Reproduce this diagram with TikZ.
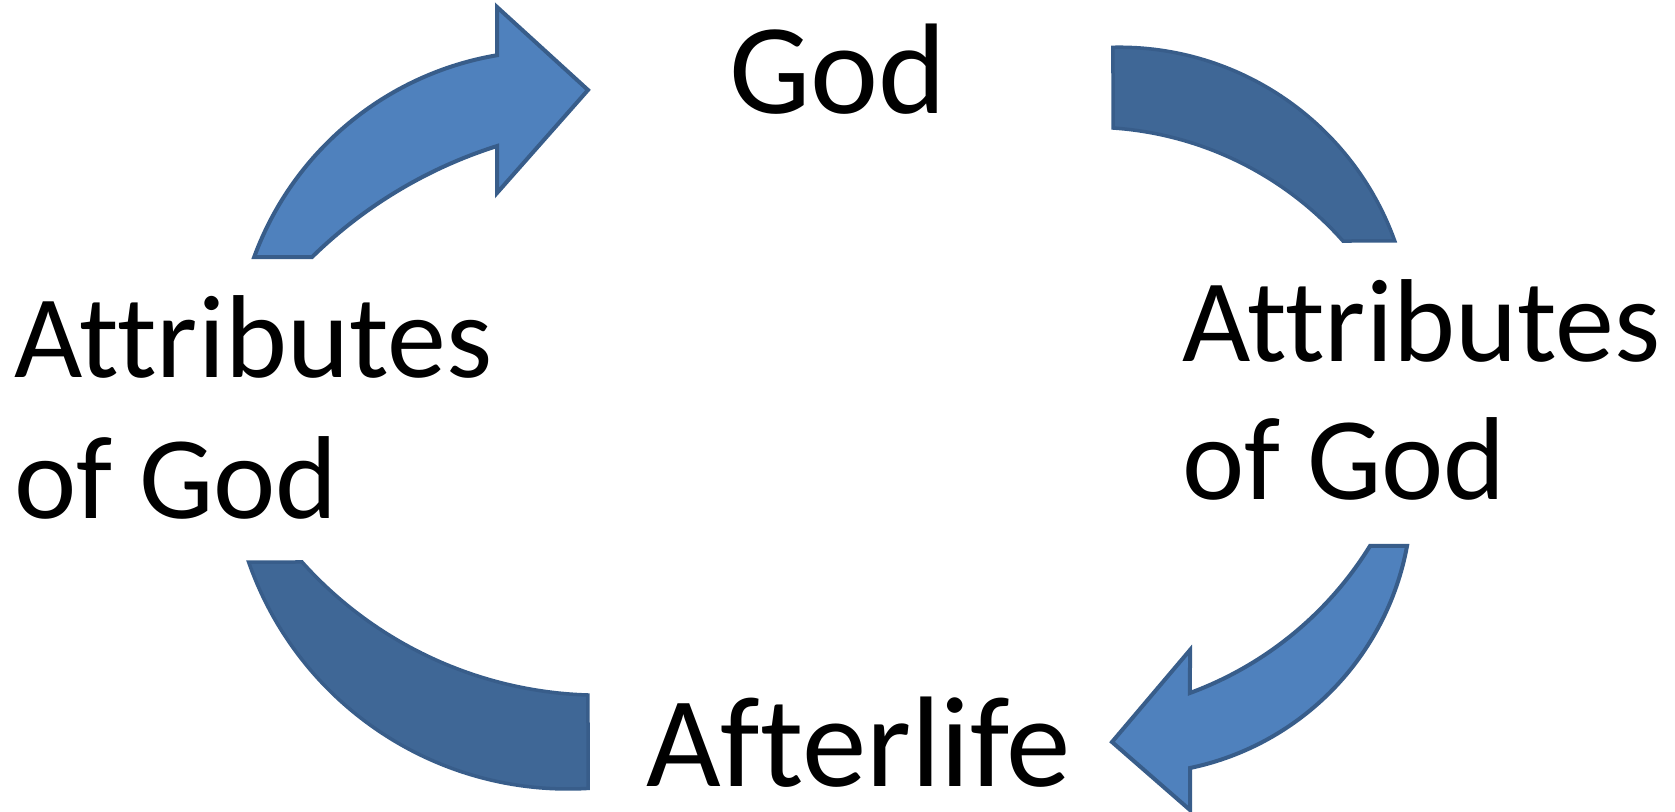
\documentclass[tikz,border=0pt]{standalone}
\usepackage{fontspec}
\setmainfont{Carlito}[Ligatures={NoCommon}]
\definecolor{lightblue}{HTML}{4F81BD}
\definecolor{lightedge}{HTML}{385D8A}
\definecolor{darkblue}{HTML}{3F6796}
\definecolor{darkedge}{HTML}{385D8A}
\begin{document}
\begin{tikzpicture}[x=1bp,y=-1bp,
  lightarrow/.style={fill=lightblue, draw=lightedge, line width=4bp, line join=miter},
  darkarrow/.style={fill=darkblue, draw=darkedge, line width=3.5bp, line join=miter},
  cyclelabel/.style={inner sep=0pt, anchor=base west, text=black, font=\fontsize{118bp}{141bp}\selectfont},
  biglabel/.style={cyclelabel, font=\fontsize{129bp}{155bp}\selectfont}]
\useasboundingbox (0,0) rectangle (1675,812);

% top-left arrow (points to God)
\draw[lightarrow] ([shift={(549.6,365.5)}]-159.85:314.7)
  arc[start angle=-159.85, end angle=-99.61, radius=314.7]
  -- (497,7) -- (588,90) -- (497,193)
  -- ([shift={(637.2,589.4)}]-107.55:465)
  arc[start angle=-107.55, end angle=-134.37, radius=465] -- cycle;

% top-right arc
\draw[darkarrow] ([shift={(1119.1,340.2)}]-91.2:293)
  arc[start angle=-91.2, end angle=-19.84, radius=293]
  -- ([shift={(1089.9,465.5)}]-41.57:338.3)
  arc[start angle=-41.57, end angle=-86.08, radius=338.3] -- cycle;

% bottom-right arrow (points to Afterlife)
\draw[lightarrow] ([shift={(1133,495.2)}]10.5:278.7)
  arc[start angle=10.5, end angle=78.2, radius=278.7]
  -- (1190,810) -- (1112,742) -- (1190,650)
  -- ([shift={(1066.9,358.5)}]69.8:356.4)
  arc[start angle=69.8, end angle=31.74, radius=356.4] -- cycle;

% bottom-left arc
\draw[darkarrow] ([shift={(568.2,450.5)}]160.75:338.5)
  arc[start angle=160.75, end angle=86.64, radius=338.5]
  -- ([shift={(600.2,294.8)}]91.75:400.4)
  arc[start angle=91.75, end angle=138.14, radius=400.4] -- cycle;

\node[biglabel] (god) at (729,113) {God};
\node[cyclelabel] (attrL1) at (14,377) {Attributes};
\node[cyclelabel] (attrL2) at (14,518) {of God};
\node[cyclelabel] (attrR1) at (1182,361) {Attributes};
\node[cyclelabel] (attrR2) at (1182,499) {of God};
\node[biglabel] (after) at (646,786) {\raisebox{0pt}[\height][0pt]{Afterlife}};
\end{tikzpicture}
\end{document}
